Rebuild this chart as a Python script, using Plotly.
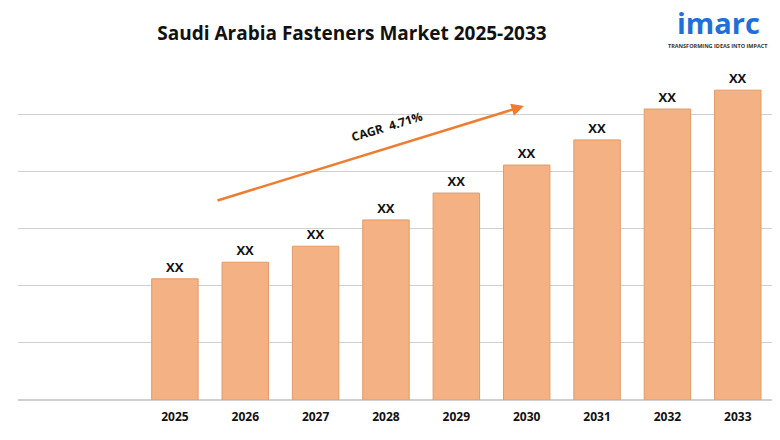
import plotly.graph_objects as go

years = ["2025","2026","2027","2028","2029","2030","2031","2032","2033"]
values = [2.12, 2.41, 2.69, 3.15, 3.62, 4.11, 4.55, 5.09, 5.42]
labels = ["<b>XX</b>"]*9

fig = go.Figure(go.Bar(
    x=years, y=values, text=labels, textposition="outside",
    textfont=dict(family="Open Sans", size=13, color="#111"),
    marker=dict(color="#F4B183", line=dict(color="#E39A66", width=1)),
    width=0.66, cliponaxis=False))

OFF = 8  # page body margin
W, H, L, R, T, B = 780, 440, 10, 8, 49, 48
pw, ph = W - L - R, H - T - B
def px(x): return (x - OFF - L) / pw
def py(y): return (H - B - (y - OFF)) / ph

fig.update_layout(
    width=W, height=H, margin=dict(l=L, r=R, t=T, b=B, autoexpand=False),
    plot_bgcolor="white", paper_bgcolor="white", showlegend=False,
    title=dict(text="<b>Saudi Arabia Fasteners Market 2025-2033</b>", x=(352-OFF)/W, xanchor="center",
               y=1-(33-OFF)/H, yanchor="middle", font=dict(family="Open Sans", size=19, color="#111")),
    xaxis=dict(type="category", range=[-2.23, 8.6], showgrid=False, showline=False,
               tickfont=dict(family="Open Sans", size=12, color="#111"), ticks="", automargin=False,
               ticklabelstandoff=8),
    yaxis=dict(range=[0, 6], dtick=1, showticklabels=False, gridcolor="#d0d0d0",
               zeroline=True, zerolinecolor="#d0d0d0", automargin=False),
    font=dict(family="Open Sans"),
)
fig.update_xaxes(tickvals=years, ticktext=[f"<b>{y}</b>" for y in years])

fig.add_annotation(xref="x domain", yref="y domain", x=px(524), y=py(106),
                   ax=px(216), ay=py(201), axref="x domain", ayref="y domain",
                   showarrow=True, arrowhead=2, arrowsize=1, arrowwidth=2.5,
                   arrowcolor="#ED7D31", text="")
common = dict(xref="paper", yref="paper", showarrow=False, xanchor="center", yanchor="middle")
fig.add_annotation(x=px(387), y=py(126), text="<b>CAGR  4.71%</b>", textangle=-17,
                   font=dict(family="Open Sans", size=12, color="#111"), **common)
fig.add_annotation(x=px(718), y=py(23), text="<b>imarc</b>",
                   font=dict(family="Open Sans", size=29, color="#1E6FD9"), **common)
fig.add_annotation(x=px(718), y=py(46), text="<b>TRANSFORMING IDEAS INTO IMPACT</b>",
                   font=dict(family="Open Sans", size=5.5, color="#333"), **common)

fig.write_html("out.html")
